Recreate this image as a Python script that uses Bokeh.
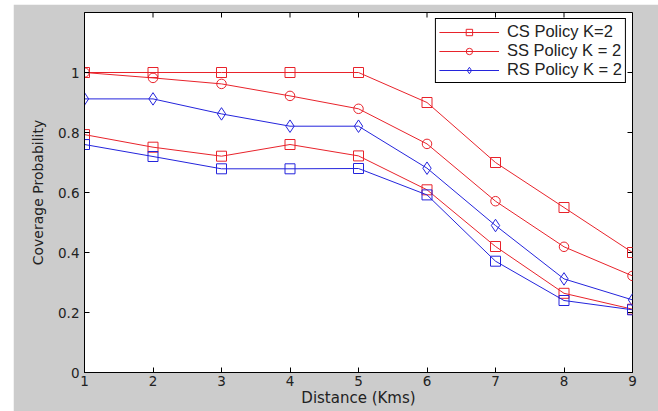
import math
from bokeh.plotting import figure
from bokeh.models import FixedTicker, Range1d, Spacer
from bokeh.layouts import row, column
from bokeh.embed import file_html
from bokeh.resources import INLINE

# ---- data ----
distance = [1, 2, 3, 4, 5, 6, 7, 8, 9]
cs_k2 = [1.0, 1.0, 1.0, 1.0, 1.0, 0.90, 0.70, 0.55, 0.40]
ss_k2 = [1.0, 0.982, 0.962, 0.922, 0.879, 0.762, 0.571, 0.419, 0.322]
rs_k2 = [0.912, 0.912, 0.862, 0.821, 0.821, 0.681, 0.490, 0.312, 0.242]
cs_other = [0.793, 0.751, 0.721, 0.760, 0.722, 0.609, 0.420, 0.264, 0.211]
rs_other = [0.760, 0.720, 0.679, 0.679, 0.680, 0.592, 0.371, 0.240, 0.209]

x_ticks = [1, 2, 3, 4, 5, 6, 7, 8, 9]
y_ticks = [0, 0.2, 0.4, 0.6, 0.8, 1]
y_tick_labels = ["0", "0.2", "0.4", "0.6", "0.8", "1"]
x_min, x_max = 1, 9
y_min, y_max = 0, 1.2

labels = ["CS Policy K=2", "SS Policy K = 2", "RS Policy K = 2"]

RED = "#e8232b"
BLUE = "#2424dc"
GRAY = "#cccccc"
TICK_FONT = "DejaVu Sans"

p = figure(width=645, height=407,
           x_range=Range1d(x_min, x_max), y_range=Range1d(y_min, y_max),
           output_backend="svg", toolbar_location=None,
           background_fill_color="white", border_fill_color=GRAY,
           min_border_left=71, min_border_right=26,
           min_border_top=8, min_border_bottom=39)

p.xgrid.visible = False
p.ygrid.visible = False
p.outline_line_color = "black"
p.outline_line_alpha = 1

p.xaxis.ticker = FixedTicker(ticks=x_ticks)
p.yaxis.ticker = FixedTicker(ticks=y_ticks)
p.yaxis.major_label_overrides = dict(zip(y_ticks, y_tick_labels))

for ax in (p.xaxis[0], p.yaxis[0]):
    ax.major_tick_in = 5
    ax.major_tick_out = 0
    ax.minor_tick_line_color = None
    ax.axis_line_color = "black"
    ax.major_tick_line_color = "black"
    ax.major_label_text_font = TICK_FONT
    ax.major_label_text_font_size = "13.5px"
    ax.major_label_text_color = "#222222"
    ax.axis_label_text_font = TICK_FONT
    ax.axis_label_text_font_style = "normal"
    ax.axis_label_text_color = "#222222"

p.xaxis.axis_label = "Distance (Kms)"
p.yaxis.axis_label = "Coverage Probability"
p.xaxis.axis_label_text_font_size = "15px"
p.yaxis.axis_label_text_font_size = "14px"
p.xaxis.major_label_standoff = 3
p.xaxis.axis_label_standoff = 0
p.yaxis.major_label_standoff = 5
p.yaxis.axis_label_standoff = 9

# inward ticks on the top and right edges of the box (clipped to the frame)
p.scatter(x_ticks, [y_max] * len(x_ticks), marker="dash", angle=math.pi / 2, size=10,
          line_color="black", line_width=1)
p.scatter([x_max] * len(y_ticks), y_ticks, marker="dash", size=10,
          line_color="black", line_width=1)

# labelled series
p.line(distance, cs_k2, color=RED, line_width=1, legend_label=labels[0])
p.scatter(distance, cs_k2, marker="square", size=10, line_color=RED, fill_color=None,
          line_width=1, legend_label=labels[0])
p.line(distance, ss_k2, color=RED, line_width=1, legend_label=labels[1])
p.scatter(distance, ss_k2, marker="circle", size=9.5, line_color=RED, fill_color=None,
          line_width=1, legend_label=labels[1])
p.line(distance, rs_k2, color=BLUE, line_width=1, legend_label=labels[2])
p.scatter(distance, rs_k2, marker="diamond", size=12.5, line_color=BLUE, fill_color=None,
          line_width=1, legend_label=labels[2])

# unlabelled series
p.line(distance, cs_other, color=RED, line_width=1)
p.scatter(distance, cs_other, marker="square", size=10, line_color=RED, fill_color=None, line_width=1)
p.line(distance, rs_other, color=BLUE, line_width=1)
p.scatter(distance, rs_other, marker="square", size=10, line_color=BLUE, fill_color=None, line_width=1)

lg = p.legend[0]
lg.location = "top_right"
lg.margin = 6
lg.padding = 3
lg.spacing = 0
lg.label_height = 16
lg.glyph_height = 16
lg.glyph_width = 60
lg.label_standoff = 8
lg.border_line_color = "black"
lg.border_line_alpha = 1
lg.background_fill_color = "white"
lg.background_fill_alpha = 1
lg.label_text_font = "Liberation Sans"
lg.label_text_font_size = "16.5px"
lg.label_text_color = "#222222"

layout = row(Spacer(width=13, height=411), column(Spacer(width=645, height=4), p))

with open("out.html", "w") as f:
    f.write(file_html(layout, INLINE))
